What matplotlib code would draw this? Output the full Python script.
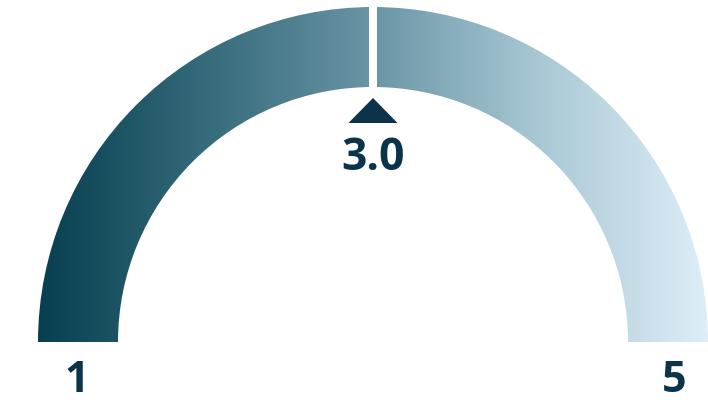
import numpy as np
import matplotlib
matplotlib.use("Agg")
import matplotlib.pyplot as plt
from matplotlib.patches import Wedge, Polygon
from matplotlib.colors import LinearSegmentedColormap

# Data
gauge_min = 1
gauge_max = 5
gauge_value = 3.0
value_label = "3.0"
min_label = "1"
max_label = "5"

W, H = 708, 400
fig = plt.figure(figsize=(W / 100, H / 100), dpi=100)
ax = fig.add_axes([0, 0, 1, 1])
ax.set_xlim(0, W)
ax.set_ylim(0, H)
ax.set_aspect("equal")
ax.axis("off")

cx, cy = 373, 58
r_out, r_in = 335, 255
cmap = LinearSegmentedColormap.from_list(
    "g", ["#073f50", "#356b7a", "#6a95a5", "#a9c8d5", "#ddeef7"])

wedge = Wedge((cx, cy), r_out, 0, 180, width=r_out - r_in,
              facecolor="none", edgecolor="none")
ax.add_patch(wedge)
grad = np.linspace(0, 1, 512).reshape(1, -1)
im = ax.imshow(grad, cmap=cmap, extent=[cx - r_out, cx + r_out, cy, cy + r_out],
               aspect="auto", interpolation="bilinear")
im.set_clip_path(wedge)

frac = (gauge_value - gauge_min) / (gauge_max - gauge_min)
ang = np.pi * (1 - frac)
u = np.array([np.cos(ang), np.sin(ang)])
n = np.array([-u[1], u[0]])
# split gap
ax.plot([cx + u[0] * (r_in - 5), cx + u[0] * (r_out + 5)],
        [cy + u[1] * (r_in - 5), cy + u[1] * (r_out + 5)],
        color="white", lw=8 * 0.72, solid_capstyle="butt")

# pointer
c = np.array([cx, cy])
tip = c + u * 244
b1 = c + u * 219 + n * 24.5
b2 = c + u * 219 - n * 24.5
ax.add_patch(Polygon([tip, b1, b2], closed=True, facecolor="#0b3349", edgecolor="none"))

tc = c + u * 183
ax.text(tc[0], tc[1], value_label, ha="center", va="center", fontsize=32,
        fontweight="bold", family="Open Sans", color="#0b3349")

ax.text(cx - 296.5, cy - 38, min_label, ha="center", va="center",
        fontsize=31, fontweight="bold", family="Open Sans", color="#0b3349")
ax.text(cx + 301, cy - 38, max_label, ha="center", va="center",
        fontsize=31, fontweight="bold", family="Open Sans", color="#0b3349")

fig.savefig("out.png", dpi=100)
